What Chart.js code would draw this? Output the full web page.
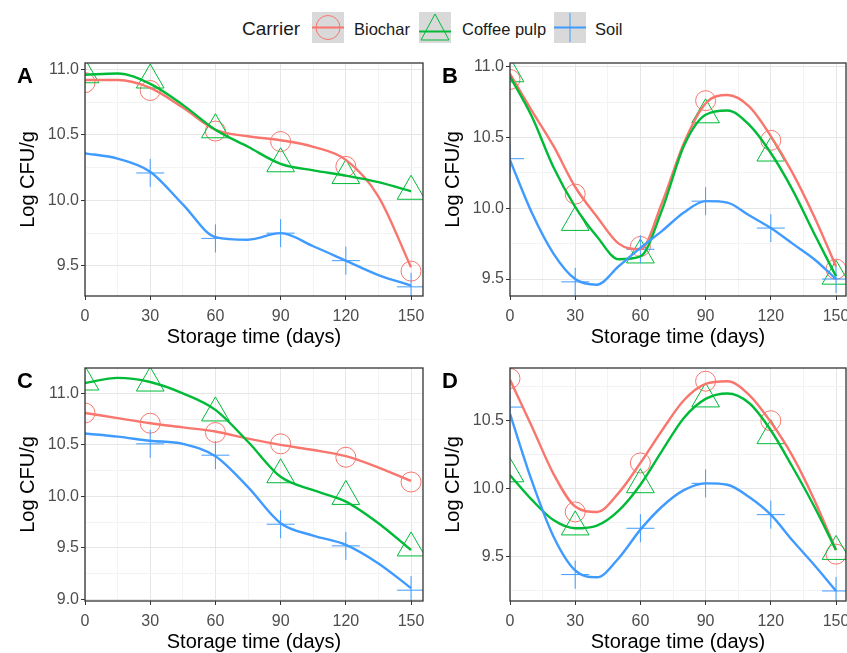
<!DOCTYPE html>
<html>
<head>
<meta charset="utf-8">
<script src="https://cdn.jsdelivr.net/npm/chart.js@4"></script>
<style>
  body { margin: 0; width: 847px; height: 653px; overflow: hidden; background: #fff; position: relative;
         font-family: "Liberation Sans", Arial, sans-serif; }
  canvas { position: absolute; }
  .lg { position: absolute; line-height: 1; color: #1a1a1a; white-space: nowrap; }
  .key { position: absolute; top: 12px; }
  .tag { position: absolute; font-weight: bold; font-size: 22px; line-height: 1; color: #000; }
</style>
</head>
<body>
<span class="lg" style="left:242px;top:19px;font-size:19px">Carrier</span>
<svg class="key" style="left:312px" width="32" height="31">
  <rect width="32" height="31" fill="#d9d9d9"/>
  <circle cx="16" cy="15.5" r="12" fill="none" stroke="#F8766D" stroke-width="1"/>
  <line x1="0" y1="15.5" x2="32" y2="15.5" stroke="#F8766D" stroke-width="2"/>
</svg>
<span class="lg" style="left:354px;top:21px;font-size:16.5px">Biochar</span>
<svg class="key" style="left:419px" width="32" height="31">
  <rect width="32" height="31" fill="#d9d9d9"/>
  <polygon points="16,2 30,28 2,28" fill="none" stroke="#00BA38" stroke-width="1"/>
  <line x1="0" y1="19.5" x2="32" y2="19.5" stroke="#00BA38" stroke-width="2"/>
</svg>
<span class="lg" style="left:462px;top:21px;font-size:16.5px">Coffee pulp</span>
<svg class="key" style="left:554px" width="32" height="31">
  <rect width="32" height="31" fill="#d9d9d9"/>
  <line x1="16" y1="1" x2="16" y2="30" stroke="#3F9BFF" stroke-width="1"/>
  <line x1="0" y1="15.5" x2="32" y2="15.5" stroke="#3F9BFF" stroke-width="2"/>
</svg>
<span class="lg" style="left:595px;top:21px;font-size:16.5px">Soil</span>

<canvas id="pA" width="425" height="305" style="left:0;top:50px"></canvas>
<canvas id="pB" width="422" height="305" style="left:425px;top:50px"></canvas>
<canvas id="pC" width="425" height="305" style="left:0;top:355px"></canvas>
<canvas id="pD" width="422" height="305" style="left:425px;top:355px"></canvas>

<div class="tag" style="left:17px;top:65px">A</div>
<div class="tag" style="left:442px;top:65px">B</div>
<div class="tag" style="left:17px;top:370px">C</div>
<div class="tag" style="left:442px;top:370px">D</div>

<script>
// sampling days
const days = [0, 30, 60, 90, 120, 150];
const fitDays15 = [0, 15, 30, 45, 60, 75, 90, 105, 120, 135, 150];
const fitDays10 = [0, 10, 20, 30, 40, 50, 60, 70, 80, 90, 100, 110, 120, 130, 140, 150];

// axis breaks
const xBreaks = [0, 30, 60, 90, 120, 150];
const xMinor = [15, 45, 75, 105, 135];
const yBreaksA = [9.5, 10.0, 10.5, 11.0];
const yMinorA = [9.75, 10.25, 10.75];
const yBreaksB = [9.5, 10.0, 10.5, 11.0];
const yMinorB = [9.75, 10.25, 10.75];
const yBreaksC = [9.0, 9.5, 10.0, 10.5, 11.0];
const yMinorC = [9.25, 9.75, 10.25, 10.75];
const yBreaksD = [9.5, 10.0, 10.5];
const yMinorD = [9.25, 9.75, 10.25, 10.75];

// panel A
const aBiochar = [10.90, 10.84, 10.53, 10.45, 10.26, 9.46];
const aCoffee = [10.96, 10.92, 10.54, 10.28, 10.19, 10.07];
const aSoil = [null, 10.21, 9.71, 9.75, 9.54, 9.34];
const aBiocharFit = [10.92, 10.92, 10.86, 10.71, 10.54, 10.49, 10.46, 10.41, 10.31, 10.03, 9.49];
const aCoffeeFit = [10.96, 10.97, 10.89, 10.73, 10.54, 10.41, 10.28, 10.23, 10.19, 10.14, 10.07];
const aSoilFit = [10.36, 10.32, 10.22, 9.97, 9.72, 9.70, 9.75, 9.65, 9.54, 9.43, 9.35];

// panel B
const bBiochar = [10.91, 10.10, 9.73, 10.76, 10.48, 9.57];
const bCoffee = [10.95, 9.90, 9.67, 10.66, 10.39, 9.52];
const bSoil = [10.35, 9.48, 9.71, 10.05, 9.86, 9.50];
const bBiocharFit = [10.95, 10.69, 10.44, 10.15, 9.94, 9.75, 9.71, 10.04, 10.46, 10.74, 10.80, 10.72, 10.51, 10.25, 9.94, 9.59];
const bCoffeeFit = [10.93, 10.65, 10.29, 10.01, 9.80, 9.64, 9.66, 9.99, 10.44, 10.66, 10.69, 10.59, 10.39, 10.13, 9.82, 9.52];
const bSoilFit = [10.34, 9.97, 9.68, 9.50, 9.46, 9.59, 9.72, 9.84, 9.97, 10.05, 10.04, 9.95, 9.86, 9.75, 9.64, 9.50];

// panel C
const cBiochar = [10.81, 10.71, 10.62, 10.51, 10.38, 10.14];
const cCoffee = [11.11, 11.10, 10.81, 10.21, 10.00, 9.50];
const cSoil = [null, 10.51, 10.40, 9.73, 9.52, 9.09];
const cBiocharFit = [10.81, 10.76, 10.71, 10.67, 10.63, 10.56, 10.50, 10.45, 10.39, 10.28, 10.15];
const cCoffeeFit = [11.10, 11.15, 11.11, 11.00, 10.84, 10.53, 10.19, 10.06, 9.95, 9.74, 9.48];
const cSoilFit = [10.61, 10.58, 10.54, 10.51, 10.39, 10.09, 9.74, 9.62, 9.53, 9.35, 9.11];

// panel D
const dBiochar = [10.81, 9.83, 10.19, 10.79, 10.50, 9.52];
const dCoffee = [10.11, 9.72, 10.03, 10.66, 10.39, 9.54];
const dSoil = [10.60, 9.37, 9.71, 10.04, 9.81, 9.25];
const dBiocharFit = [10.80, 10.46, 10.11, 9.87, 9.83, 9.97, 10.19, 10.43, 10.65, 10.77, 10.79, 10.69, 10.49, 10.24, 9.92, 9.55];
const dCoffeeFit = [10.10, 9.92, 9.77, 9.71, 9.73, 9.84, 10.03, 10.28, 10.52, 10.66, 10.70, 10.63, 10.43, 10.16, 9.87, 9.55];
const dSoilFit = [10.55, 10.06, 9.65, 9.40, 9.35, 9.49, 9.70, 9.87, 9.99, 10.04, 10.03, 9.94, 9.81, 9.62, 9.44, 9.25];

const RED = "#F8766D", GREEN = "#00BA38", BLUE = "#3F9BFF";
const MAJOR = "#e6e6e6", MINOR = "#f3f3f3", DARK = "#333333";

Chart.defaults.font.family = '"Liberation Sans", Arial, sans-serif';
Chart.defaults.color = "#4d4d4d";

const panelBorder = {
  id: "panelBorder",
  afterDraw(chart) {
    const { ctx, chartArea: a } = chart;
    ctx.save();
    ctx.strokeStyle = DARK;
    ctx.lineWidth = 1.3;
    ctx.strokeRect(a.left, a.top, a.right - a.left, a.bottom - a.top);
    ctx.restore();
  },
};

const toXY = (xs, ys) => xs.map((x, i) => ({ x: x, y: ys[i] }));
const isIn = (list, v) => list.some((b) => Math.abs(b - v) < 1e-6);

function makePanel(id, p) {
  const pointSet = (vals, color, style, radius, order) => ({
    data: toXY(days, vals),
    showLine: false,
    pointStyle: style,
    pointRadius: radius,
    pointBorderColor: color,
    pointBackgroundColor: "rgba(0,0,0,0)",
    pointBorderWidth: 1,
    clip: 0,
    order: order,
  });
  const fitSet = (xs, vals, color, order) => ({
    data: toXY(xs, vals),
    borderColor: color,
    borderWidth: 2.4,
    pointRadius: 0,
    cubicInterpolationMode: "monotone",
    fill: false,
    clip: 0,
    order: order,
  });

  new Chart(document.getElementById(id), {
    type: "line",
    data: {
      datasets: [
        fitSet(p.fitDays, p.soilFit, BLUE, 1),
        fitSet(p.fitDays, p.coffeeFit, GREEN, 2),
        fitSet(p.fitDays, p.biocharFit, RED, 3),
        pointSet(p.soil, BLUE, "cross", 14, 4),
        pointSet(p.coffee, GREEN, "triangle", 16, 5),
        pointSet(p.biochar, RED, "circle", 10, 6),
      ],
    },
    options: {
      responsive: false,
      animation: false,
      devicePixelRatio: 1,
      layout: { autoPadding: false, padding: { top: 13, right: p.padRight, left: 0, bottom: 0 } },
      plugins: { legend: { display: false }, tooltip: { enabled: false } },
      scales: {
        x: {
          type: "linear",
          min: 0,
          max: p.xMax,
          afterBuildTicks: (s) => {
            s.ticks = xBreaks.concat(xMinor).sort((a, b) => a - b).map((v) => ({ value: v }));
          },
          afterFit: (s) => {
            s.height = 59;
            s.paddingLeft = 0;
            s.paddingRight = 0;
          },
          ticks: {
            autoSkip: false,
            maxRotation: 0,
            padding: 7,
            font: { size: 16 },
            color: "#4d4d4d",
            callback: (v) => (isIn(xBreaks, v) ? String(v) : ""),
          },
          grid: {
            color: (c) => (isIn(xBreaks, c.tick.value) ? MAJOR : MINOR),
            tickColor: (c) => (isIn(xBreaks, c.tick.value) ? DARK : "rgba(0,0,0,0)"),
            tickLength: 4,
            lineWidth: 1,
          },
          border: { display: false },
          title: {
            display: true,
            text: "Storage time (days)",
            color: "#000",
            font: { size: 20 },
            padding: { top: 0, bottom: 6 },
          },
        },
        y: {
          type: "linear",
          min: p.yMin,
          max: p.yMax,
          afterBuildTicks: (s) => {
            s.ticks = p.yBreaks.concat(p.yMinor).sort((a, b) => a - b).map((v) => ({ value: v }));
          },
          afterFit: (s) => {
            s.width = 85;
            s.paddingTop = 0;
            s.paddingBottom = 0;
          },
          ticks: {
            autoSkip: false,
            padding: 2,
            font: { size: 16 },
            color: "#4d4d4d",
            callback: (v) => (isIn(p.yBreaks, v) ? v.toFixed(1) : ""),
          },
          grid: {
            color: (c) => (isIn(p.yBreaks, c.tick.value) ? MAJOR : MINOR),
            tickColor: (c) => (isIn(p.yBreaks, c.tick.value) ? DARK : "rgba(0,0,0,0)"),
            tickLength: 4,
            lineWidth: 1,
          },
          border: { display: false },
          title: {
            display: true,
            text: "Log CFU/g",
            color: "#000",
            font: { size: 20 },
            padding: { top: 16, bottom: 0 },
          },
        },
      },
    },
    plugins: [panelBorder],
  });
}

makePanel("pA", {
  biochar: aBiochar, coffee: aCoffee, soil: aSoil,
  fitDays: fitDays15, biocharFit: aBiocharFit, coffeeFit: aCoffeeFit, soilFit: aSoilFit,
  yMin: 9.27, yMax: 11.05, yBreaks: yBreaksA, yMinor: yMinorA, xMax: 155.5, padRight: 2,
});
makePanel("pB", {
  biochar: bBiochar, coffee: bCoffee, soil: bSoil,
  fitDays: fitDays10, biocharFit: bBiocharFit, coffeeFit: bCoffeeFit, soilFit: bSoilFit,
  yMin: 9.38, yMax: 11.026, yBreaks: yBreaksB, yMinor: yMinorB, xMax: 154.6, padRight: 1,
});
makePanel("pC", {
  biochar: cBiochar, coffee: cCoffee, soil: cSoil,
  fitDays: fitDays15, biocharFit: cBiocharFit, coffeeFit: cCoffeeFit, soilFit: cSoilFit,
  yMin: 8.985, yMax: 11.246, yBreaks: yBreaksC, yMinor: yMinorC, xMax: 155.5, padRight: 2,
});
makePanel("pD", {
  biochar: dBiochar, coffee: dCoffee, soil: dSoil,
  fitDays: fitDays10, biocharFit: dBiocharFit, coffeeFit: dCoffeeFit, soilFit: dSoilFit,
  yMin: 9.176, yMax: 10.887, yBreaks: yBreaksD, yMinor: yMinorD, xMax: 154.6, padRight: 1,
});
</script>
</body>
</html>
